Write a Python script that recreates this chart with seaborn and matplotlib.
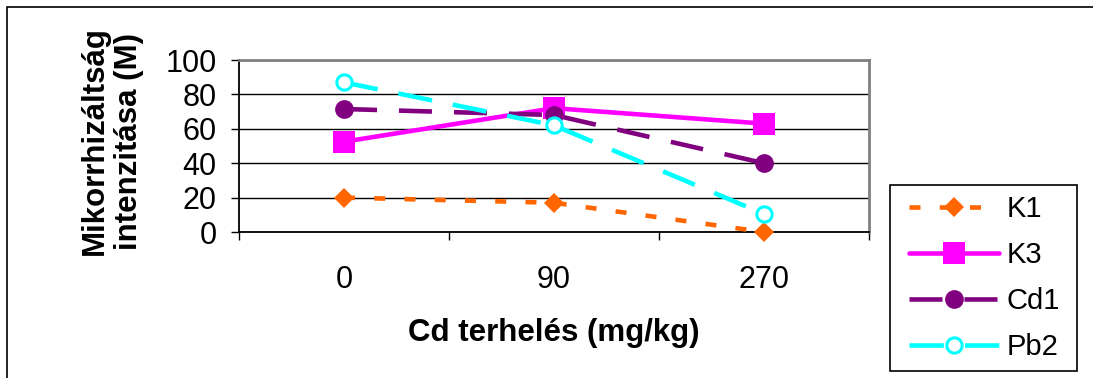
import numpy as np
import pandas as pd
import matplotlib
matplotlib.use("Agg")
import matplotlib.pyplot as plt
import seaborn as sns
from matplotlib.patches import Rectangle

# ---- data ----
categories = ["0", "90", "270"]
series_names = ["K1", "K3", "Cd1", "Pb2"]
k1 = [20, 17, 0]
k3 = [52.5, 72, 63]
cd1 = [71.5, 68, 40]
pb2 = [87, 62, 10.5]
yticks = [0, 20, 40, 60, 80, 100]
xlabel = "Cd terhelés (mg/kg)"
ylabel = "Mikorrhizáltság\nintenzitása (M)"

sns.set_theme(style="white")
plt.rcParams['font.family'] = ['Liberation Sans', 'DejaVu Sans']
plt.rcParams['text.color'] = 'black'
plt.rcParams['axes.labelcolor'] = 'black'

W, H = 1093, 378
fig = plt.figure(figsize=(W / 100, H / 100), dpi=100)
ax = fig.add_axes([239 / W, 1 - 232 / H, 630 / W, 172 / H])

df = pd.DataFrame({
    "x": categories * 4,
    "y": k1 + k3 + cd1 + pb2,
    "series": np.repeat(series_names, len(categories)),
})

styles = {
    "K1": dict(color="#FF6600", marker="D", ms=10, mfc="#FF6600", mec="#FF6600", mew=0,
               ls=(0, (2.4, 4.2))),
    "K3": dict(color="#FF00FF", marker="s", ms=15.5, mfc="#FF00FF", mec="#FF00FF", mew=0,
               ls="-"),
    "Cd1": dict(color="#800080", marker="o", ms=13.5, mfc="#800080", mec="#800080", mew=0,
                ls=(0, (7.2, 4.8))),
    "Pb2": dict(color="#00FFFF", marker="o", ms=11, mfc="white", mec="#00FFFF", mew=2.2,
                ls=(0, (7.5, 4.6))),
}

for name in series_names:
    st = styles[name]
    sub = df[df["series"] == name]
    sns.lineplot(data=sub, x="x", y="y", ax=ax, sort=False, legend=False,
                 color=st["color"], marker=st["marker"], markersize=st["ms"],
                 markerfacecolor=st["mfc"], markeredgecolor=st["mec"],
                 markeredgewidth=st["mew"], linewidth=3.3, clip_on=False)
    line = ax.lines[-1]
    line.set_linestyle(st["ls"])
    line.set_dash_capstyle("butt")
    line.set_zorder(5)

handles = ax.lines[:len(series_names)]

ax.set_xlim(-0.5, len(categories) - 0.5)
ax.set_ylim(0, 100)
ax.set_yticks(yticks)
ax.set_yticklabels([str(v) for v in yticks])
ax.set_xticks(range(len(categories)))
ax.set_xticklabels(categories)
ax.set_xticks(np.arange(-0.5, len(categories), 1.0), minor=True)

ax.tick_params(axis="x", which="major", length=0, pad=23.5, labelsize=22, colors="black")
ax.tick_params(axis="x", which="minor", length=6, width=1, direction="out", color="black",
               bottom=True)
ax.tick_params(axis="y", which="major", length=6, width=1, direction="out", pad=10,
               labelsize=22, colors="black", left=True)
ax.yaxis.grid(True, color="black", linewidth=1)
ax.set_axisbelow(True)

for s in ["left", "bottom"]:
    ax.spines[s].set_color("black")
    ax.spines[s].set_linewidth(1.3)
for s in ["top", "right"]:
    ax.spines[s].set_color("#808080")
    ax.spines[s].set_linewidth(2)

ax.set_xlabel(xlabel, fontsize=22.5, fontweight="bold", color="black")
ax.set_ylabel(ylabel, fontsize=22.5, fontweight="bold", linespacing=1.2, color="black")
ax.xaxis.set_label_coords(0.5, (232 - 333) / 172)
ax.xaxis.label.set_va("center")
ax.yaxis.set_label_coords((112 - 239) / 630, (232 - 141) / 172)
ax.yaxis.label.set_va("center")

# legend
lx0, ly0, lx1, ly1 = 890, 185, 1077, 371
fig.patches.append(Rectangle((lx0 / W, 1 - ly1 / H), (lx1 - lx0) / W, (ly1 - ly0) / H,
                             transform=fig.transFigure, fill=True, facecolor="white",
                             edgecolor="black", linewidth=1.2, zorder=1))
leg = fig.legend(handles, series_names, loc="upper left",
                 bbox_to_anchor=(909 / W, 1 - 195 / H), frameon=False,
                 fontsize=21, handlelength=3.1, handletextpad=0.25,
                 labelspacing=0.62, borderpad=0, borderaxespad=0)
for t in leg.get_texts():
    t.set_color("black")

# outer border
fig.patches.append(Rectangle((7 / W, -0.1), 1.2, 1 - 7 / H + 0.1,
                             transform=fig.transFigure, fill=False,
                             edgecolor="black", linewidth=1.2, zorder=0))

fig.savefig("out.png", dpi=100)
